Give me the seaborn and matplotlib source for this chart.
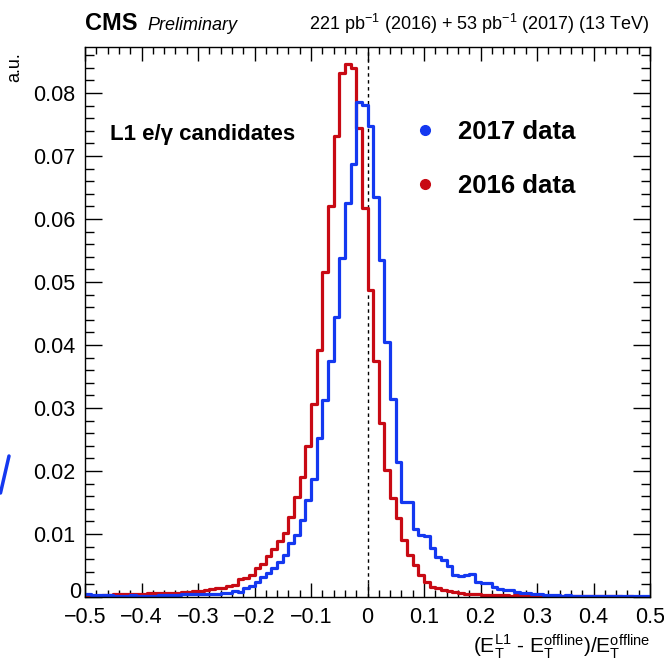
import numpy as np
import pandas as pd
import matplotlib
matplotlib.use("Agg")
import matplotlib.pyplot as plt
from matplotlib.ticker import MultipleLocator, FuncFormatter
from matplotlib.lines import Line2D
import seaborn as sns

# Binning of the resolution variable (E_T^L1 - E_T^offline) / E_T^offline
bin_edges = [round(-0.5 + 0.01 * i, 3) for i in range(101)]

# Normalised bin contents, 2016 data (bins from -0.50 to +0.50, width 0.01)
data_2016 = [
    0.0002, 0.0001, 0.0002, 0.0003, 0.0003, 0.0004, 0.0004, 0.0005, 0.0005, 0.0005,
    0.0005, 0.0006, 0.0006, 0.0006, 0.0006, 0.0007, 0.0007, 0.0008, 0.0008, 0.0009,
    0.0010, 0.0011, 0.0012, 0.0014, 0.0015, 0.0018, 0.0019, 0.0028, 0.0030, 0.0035,
    0.0046, 0.0053, 0.0065, 0.0076, 0.0089, 0.0102, 0.0127, 0.0159, 0.0191, 0.0239,
    0.0307, 0.0392, 0.0516, 0.0620, 0.0732, 0.0831, 0.0846, 0.0839, 0.0744, 0.0617,
    0.0487, 0.0375, 0.0276, 0.0202, 0.0157, 0.0125, 0.0090, 0.0067, 0.0051, 0.0035,
    0.0024, 0.0016, 0.0014, 0.0011, 0.0010, 0.0008, 0.0006, 0.0005, 0.0004, 0.0004,
    0.0003, 0.0003, 0.0003, 0.0003, 0.0003, 0.0002, 0.0003, 0.0002, 0.0002, 0.0002,
    0.0002, 0.0001, 0.0001, 0.0001, 0.0001, 0.0001, 0.0001, 0.0001, 0.0001, 0.0001,
    0.0001, 0.0001, 0.0001, 0.0001, 0.0001, 0.0000, 0.0001, 0.0000, 0.0000, 0.0000,
]

# Normalised bin contents, 2017 data
data_2017 = [
    0.0004, 0.0003, 0.0003, 0.0003, 0.0003, 0.0002, 0.0002, 0.0002, 0.0003, 0.0002,
    0.0002, 0.0002, 0.0002, 0.0003, 0.0003, 0.0003, 0.0003, 0.0004, 0.0004, 0.0004,
    0.0005, 0.0005, 0.0004, 0.0005, 0.0006, 0.0006, 0.0010, 0.0008, 0.0014, 0.0018,
    0.0024, 0.0032, 0.0038, 0.0046, 0.0056, 0.0067, 0.0085, 0.0098, 0.0122, 0.0154,
    0.0187, 0.0252, 0.0313, 0.0375, 0.0445, 0.0538, 0.0625, 0.0688, 0.0786, 0.0781,
    0.0747, 0.0635, 0.0535, 0.0405, 0.0315, 0.0215, 0.0151, 0.0150, 0.0108, 0.0098,
    0.0097, 0.0077, 0.0064, 0.0058, 0.0049, 0.0035, 0.0034, 0.0035, 0.0037, 0.0024,
    0.0023, 0.0022, 0.0016, 0.0012, 0.0011, 0.0011, 0.0008, 0.0007, 0.0006, 0.0004,
    0.0004, 0.0003, 0.0003, 0.0003, 0.0002, 0.0003, 0.0002, 0.0002, 0.0002, 0.0002,
    0.0002, 0.0002, 0.0001, 0.0002, 0.0002, 0.0001, 0.0001, 0.0001, 0.0001, 0.0001,
]

samples = ["2016 data", "2017 data"]
colors = {"2016 data": "#c80a14", "2017 data": "#1438f0"}

sns.set_theme(style="ticks")
plt.rcParams["font.family"] = ["Liberation Sans", "DejaVu Sans"]
plt.rcParams["mathtext.fontset"] = "custom"
plt.rcParams["mathtext.rm"] = "Liberation Sans"
plt.rcParams["mathtext.it"] = "Liberation Sans:italic"
plt.rcParams["mathtext.bf"] = "Liberation Sans:bold"
plt.rcParams["text.color"] = "black"
plt.rcParams["axes.labelcolor"] = "black"
plt.rcParams["xtick.color"] = "black"
plt.rcParams["ytick.color"] = "black"
plt.rcParams["axes.edgecolor"] = "black"

edges = np.array(bin_edges)
centers = (edges[:-1] + edges[1:]) / 2
df = pd.DataFrame({
    "x": np.concatenate([centers, centers]),
    "w": np.concatenate([data_2016, data_2017]),
    "sample": np.repeat(samples, len(centers)),
})

W, H = 664, 669
fig = plt.figure(figsize=(W / 100, H / 100), dpi=100)
ax = fig.add_axes([85 / W, 1 - 597 / H, 565 / W, 550 / H])

# 2016 first so the 2017 histogram sits on top
for s in samples:
    sub = df[df["sample"] == s]
    sns.histplot(data=sub, x="x", weights="w", binwidth=0.01, binrange=(-0.5, 0.5),
                 element="step", fill=False, color=colors[s], linewidth=2.3, ax=ax)

ax.axvline(0.0, color="black", lw=1.0, ls=(0, (2.5, 2.5)), zorder=0)

ax.set_xlim(-0.5, 0.5)
ax.set_ylim(0, 0.0873)

ax.xaxis.set_major_locator(MultipleLocator(0.1))
ax.xaxis.set_minor_locator(MultipleLocator(0.02))
ax.yaxis.set_major_locator(MultipleLocator(0.01))
ax.yaxis.set_minor_locator(MultipleLocator(0.002))


def fmt_x(v, pos):
    if abs(v) < 1e-9:
        return "0"
    return f"{v:.1f}".replace("-", "\u2212")


def fmt_y(v, pos):
    # the zero label is placed separately, lifted off the x labels
    if abs(v) < 1e-9:
        return ""
    return f"{v:.2f}"


ax.xaxis.set_major_formatter(FuncFormatter(fmt_x))
ax.yaxis.set_major_formatter(FuncFormatter(fmt_y))

ax.tick_params(axis="both", which="both", direction="in", top=True, right=True,
               colors="black", labelcolor="black", width=1.0)
ax.tick_params(axis="x", which="major", length=10, labelsize=15.5, pad=7.5)
ax.tick_params(axis="x", which="minor", length=5)
ax.tick_params(axis="y", which="major", length=12.5, labelsize=15.5, pad=7)
ax.tick_params(axis="y", which="minor", length=6.5)
for sp in ax.spines.values():
    sp.set_color("black")
    sp.set_linewidth(1.0)

ax.annotate("0", xy=(0, 0), xycoords="axes fraction", xytext=(-3, 3.5),
            textcoords="offset points", ha="right", va="center", fontsize=15.5)

ax.set_ylabel("")
ax.set_xlabel(r"(E$_{\mathrm{T}}^{\mathrm{L1}}$ - E$_{\mathrm{T}}^{\mathrm{offline}}$)/E$_{\mathrm{T}}^{\mathrm{offline}}$",
              loc="right", fontsize=15, labelpad=3, color="black")

fig.text(15 / W, 1 - 52 / H, "a.u.", rotation=90, ha="center", va="top", fontsize=13)
fig.text(85 / W, 1 - 30 / H, "CMS", weight="bold", fontsize=17, ha="left", va="baseline")
fig.text(147 / W, 1 - 30 / H, "Preliminary", style="italic", fontsize=13, ha="left", va="baseline")
fig.text(650 / W, 1 - 30 / H, r"221 pb$^{-1}$ (2016) + 53 pb$^{-1}$ (2017) (13 TeV)",
         fontsize=13, ha="right", va="baseline")

ax.text(0.044, 0.831, "L1 e/\u03b3 candidates", transform=ax.transAxes,
        fontsize=16, weight="bold", ha="left", va="baseline")

handles = [Line2D([], [], ls="", marker="o", markersize=7, color=colors["2017 data"]),
           Line2D([], [], ls="", marker="o", markersize=7, color=colors["2016 data"])]
leg = ax.legend(handles, ["2017 data", "2016 data"], loc="upper left",
                bbox_to_anchor=(0.5605, 0.886), borderaxespad=0, frameon=False,
                handlelength=1.0, handletextpad=0.8, labelspacing=1.17,
                prop={"weight": "bold", "size": 18.5})
for t in leg.get_texts():
    t.set_color("black")

# slanted blue stroke at the left margin
fig.add_artist(Line2D([0.5 / W, 9 / W], [1 - 493 / H, 1 - 456 / H], color="#1438f0", lw=2.5))

fig.savefig("out.png", dpi=100, facecolor="white")
